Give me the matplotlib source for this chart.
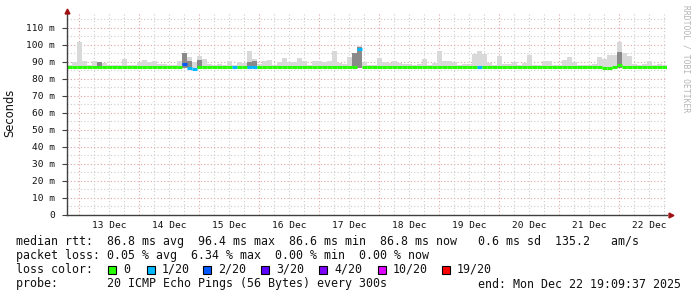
import matplotlib
matplotlib.use("Agg")
import matplotlib.pyplot as plt
import matplotlib.dates as mdates
from matplotlib.patches import Rectangle
from datetime import datetime, timedelta
import numpy as np

# ---------------- data ----------------
start = datetime(2025, 12, 12, 19, 9, 37)
end = datetime(2025, 12, 22, 19, 9, 37)
step_hours = 2

# top of the smoke (max ping) per 2-hour step, ms
smoke_top = [
    88.5, 90.0, 101.8, 90.5, 88.0, 90.6, 89.0, 89.4, 88.0, 88.0,
    88.0, 91.8, 88.0, 88.5, 90.0, 91.2, 90.0, 90.6, 89.0, 89.0,
    88.0, 88.5, 90.6, 95.5, 93.0, 90.0, 93.5, 92.0, 89.0, 88.5,
    89.0, 88.5, 90.3, 88.0, 90.0, 89.5, 96.7, 91.5, 89.0, 90.4,
    91.0, 88.5, 90.0, 92.4, 90.0, 90.2, 92.4, 90.4, 88.5, 90.8,
    90.8, 90.2, 90.8, 96.7, 89.4, 88.9, 92.8, 95.0, 99.4, 90.0,
    88.5, 88.5, 92.6, 90.2, 89.4, 90.4, 89.5, 89.0, 88.8, 88.5,
    89.0, 92.0, 88.5, 89.5, 96.5, 90.8, 90.5, 90.2, 88.5, 88.6,
    89.0, 94.7, 96.3, 94.4, 89.4, 88.5, 93.3, 89.0, 88.8, 90.0,
    88.5, 89.4, 94.3, 88.5, 88.5, 90.4, 90.8, 88.5, 88.5, 91.0,
    92.8, 90.0, 88.5, 88.5, 88.5, 88.8, 93.0, 92.0, 94.3, 94.0,
    101.8, 95.2, 93.3, 89.0, 88.5, 89.0, 90.3, 88.5, 89.0, 88.5,
]
# dense (dark) part of the smoke, 0 = none
smoke_dark = [
    0, 0, 0, 0, 0, 0, 90.0, 0, 0, 0,
    0, 0, 0, 0, 0, 0, 0, 0, 0, 0,
    0, 0, 0, 95.5, 90.5, 0, 91.0, 0, 0, 0,
    0, 0, 0, 0, 0, 0, 90.0, 90.5, 0, 0,
    0, 0, 0, 0, 0, 0, 0, 0, 0, 0,
    0, 0, 0, 0, 0, 0, 0, 95.0, 99.0, 0,
    0, 0, 0, 0, 0, 0, 0, 0, 0, 0,
    0, 0, 0, 0, 0, 0, 0, 0, 0, 0,
    0, 0, 0, 0, 0, 0, 0, 0, 0, 0,
    0, 0, 0, 0, 0, 0, 0, 0, 0, 0,
    0, 0, 0, 0, 0, 0, 0, 0, 0, 0,
    96.0, 0, 0, 0, 0, 0, 0, 0, 0, 0,
]
smoke_floor = 86.4

median_rtt = [
    86.8, 86.8, 86.8, 86.8, 86.8, 86.8, 86.8, 86.8, 86.8, 86.8,
    86.8, 86.8, 86.8, 86.8, 86.8, 86.8, 86.8, 86.8, 86.8, 86.8,
    86.8, 86.8, 86.8, 89.0, 86.3, 86.0, 87.3, 86.8, 86.8, 86.8,
    86.8, 86.8, 86.8, 86.8, 86.8, 86.8, 86.8, 86.8, 86.8, 86.8,
    86.8, 86.8, 86.8, 86.8, 86.8, 86.8, 86.8, 86.8, 86.8, 86.8,
    86.8, 86.8, 86.8, 86.8, 86.8, 86.8, 86.8, 86.8, 97.5, 86.8,
    86.8, 86.8, 86.8, 86.8, 86.8, 86.8, 86.8, 86.8, 86.8, 86.8,
    86.8, 86.8, 86.8, 86.8, 86.8, 86.8, 86.8, 86.8, 86.8, 86.8,
    86.8, 86.8, 86.8, 86.8, 86.8, 86.8, 86.8, 86.8, 86.8, 86.8,
    86.8, 86.8, 86.8, 86.8, 86.8, 86.8, 86.8, 86.8, 86.8, 86.8,
    86.8, 86.8, 86.8, 86.8, 86.8, 86.8, 86.8, 86.3, 86.3, 86.8,
    88.0, 86.8, 86.8, 86.8, 86.8, 86.8, 86.8, 86.8, 86.8, 86.8,
]
# lost pings out of 20 per step
loss = [
    0, 0, 0, 0, 0, 0, 0, 0, 0, 0,
    0, 0, 0, 0, 0, 0, 0, 0, 0, 0,
    0, 0, 0, 2, 1, 1, 0, 0, 0, 0,
    0, 0, 0, 1, 0, 0, 1, 1, 0, 0,
    0, 0, 0, 0, 0, 0, 0, 0, 0, 0,
    0, 0, 0, 0, 0, 0, 0, 0, 1, 0,
    0, 0, 0, 0, 0, 0, 0, 0, 0, 0,
    0, 0, 0, 0, 0, 0, 0, 0, 0, 0,
    0, 0, 1, 0, 0, 0, 0, 0, 0, 0,
    0, 0, 0, 0, 0, 0, 0, 0, 0, 0,
    0, 0, 0, 0, 0, 0, 0, 0, 0, 0,
    0, 0, 0, 0, 0, 0, 0, 0, 0, 0,
]

day_labels = ["13 Dec", "14 Dec", "15 Dec", "16 Dec", "17 Dec",
              "18 Dec", "19 Dec", "20 Dec", "21 Dec", "22 Dec"]
y_ticks = [0, 10, 20, 30, 40, 50, 60, 70, 80, 90, 100, 110]
y_tick_labels = ["0", "10 m", "20 m", "30 m", "40 m", "50 m", "60 m",
                 "70 m", "80 m", "90 m", "100 m", "110 m"]
loss_levels = [0, 1, 2, 3, 4, 10, 19]
loss_labels = ["0", "1/20", "2/20", "3/20", "4/20", "10/20", "19/20"]
loss_colors = ["#26ff00", "#00b8ff", "#0059ff", "#5e00ff", "#7e00ff", "#dd00ff", "#ff0000"]

line_rtt = "median rtt:  86.8 ms avg  96.4 ms max  86.6 ms min  86.8 ms now   0.6 ms sd  135.2   am/s"
line_loss = "packet loss: 0.05 % avg  6.34 % max  0.00 % min  0.00 % now"
line_probe = "probe:       20 ICMP Echo Pings (56 Bytes) every 300s"
line_end = "end: Mon Dec 22 19:09:37 2025"

# ---------------- figure ----------------
W, H = 697, 297
fig = plt.figure(figsize=(W / 100, H / 100), dpi=100, facecolor="white")
L, R, B, T = 67, 667, 215, 13
ax = fig.add_axes([L / W, 1 - B / H, (R - L) / W, (B - T) / H])
ax.set_facecolor("white")

mono = "DejaVu Sans Mono"
t_start = mdates.date2num(start)
t_end = mdates.date2num(end)
n = len(smoke_top)
step = step_hours / 24.0
left = t_start + np.arange(n) * step

ymax = 118.8
ax.set_xlim(t_start, t_end)
ax.set_ylim(0, ymax)

# grid
red = "#e3a3a3"
grey = "#cccccc"
dot = (0, (1, 2))
for v in np.arange(5, ymax, 5):
    major = int(round(v)) % 10 == 0
    ax.axhline(v, color=red if major else grey, lw=0.8, ls=dot, zorder=0.5)
g = datetime(2025, 12, 13, 0, 0)
while g < end:
    x = mdates.date2num(g)
    ax.axvline(x, color=red if g.hour == 0 else grey, lw=0.8, ls=dot, zorder=0.5)
    g += timedelta(hours=6)

# smoke
top = np.array(smoke_top)
ax.bar(left, top - smoke_floor, bottom=smoke_floor, width=step, align="edge",
       color="#d9d9d9", linewidth=0, zorder=2)
dark = np.array(smoke_dark)
m = dark > 0
ax.bar(left[m], dark[m] - smoke_floor, bottom=smoke_floor, width=step, align="edge",
       color="#8a8a8a", linewidth=0, zorder=3)

# median coloured by loss
def loss_color(l):
    c = loss_colors[0]
    for lv, col in zip(loss_levels, loss_colors):
        if l >= lv:
            c = col
    return c

cols = [loss_color(l) for l in loss]
ax.hlines(median_rtt, left, left + step, colors=cols, linewidth=2.2, zorder=4,
          capstyle="butt")

# axes
for s in ["top", "right"]:
    ax.spines[s].set_visible(False)
for s in ["left", "bottom"]:
    ax.spines[s].set_color("#404040")
    ax.spines[s].set_linewidth(1.0)
ax.spines["bottom"].set_zorder(6)
ax.spines["left"].set_zorder(6)

ax.set_yticks(y_ticks)
ax.set_yticklabels(y_tick_labels, family=mono, fontsize=6.8, color="#111111")
ax.tick_params(axis="y", length=3.5, width=0.8, color="#404040", pad=5)

noons = [mdates.date2num(datetime(2025, 12, 13, 12) + timedelta(days=i))
         for i in range(len(day_labels))]
ax.set_xticks(noons)
ax.set_xticklabels(day_labels, family=mono, fontsize=6.8, color="#111111")
ax.tick_params(axis="x", length=0, pad=4)

# arrows
ax.plot([0], [1.0 + 2.5 / (B - T)], marker="^", color="#a01010", markersize=3.5,
        transform=ax.transAxes, clip_on=False, zorder=7)
ax.plot([1.0 + 4 / (R - L)], [0], marker=">", color="#a01010", markersize=3.5,
        transform=ax.transAxes, clip_on=False, zorder=7)

# y label and watermark
fig.text(10 / W, 1 - 113 / H, "Seconds", rotation=90, ha="center", va="center",
         family="DejaVu Sans", fontsize=8.3, color="#111111")
fig.text(686 / W, 1 - 59 / H, "RRDTOOL / TOBI OETIKER", rotation=270,
         ha="center", va="center", family=mono, fontsize=5.8, color="#b4b4b4")

# legend text
fs = 8.4
def ftext(x, y, s, **kw):
    fig.text(x / W, 1 - y / H, s, ha="left", va="center", family=mono,
             fontsize=fs, color="#111111", **kw)

ftext(16, 241, line_rtt)
ftext(16, 255.5, line_loss)
ftext(16, 269.5, "loss color:")
ftext(16, 284, line_probe)
ftext(478, 284, line_end)

square_x = [108, 147, 203, 261, 319, 378, 442]
for sx, lab, col in zip(square_x, loss_labels, loss_colors):
    fig.patches.append(Rectangle((sx / W, 1 - 273.5 / H), 8 / W, 8 / H,
                                 transform=fig.transFigure, facecolor=col,
                                 edgecolor="black", linewidth=0.8))
    ftext(sx + 15, 269.5, lab)

fig.savefig("out.png", dpi=100, facecolor="white")
